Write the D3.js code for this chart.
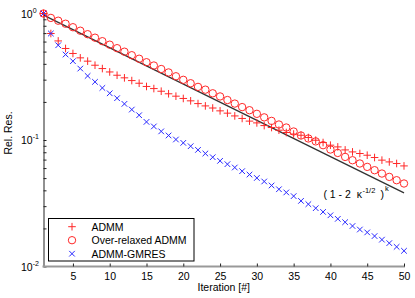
<!DOCTYPE html>
<html>
<head>
<meta charset="utf-8">
<script src="https://cdn.jsdelivr.net/npm/d3@7"></script>
<style>
  body { margin: 0; background: #fff; }
  svg { font-family: "Liberation Sans", Arial, sans-serif; }
  text { white-space: pre; }
</style>
</head>
<body>
<svg width="415" height="298"></svg>
<script>
// data
const iterations = d3.range(1, 51);

const admm = [1.0, 0.695, 0.607, 0.529, 0.483, 0.446, 0.420, 0.390, 0.367, 0.345,
  0.325, 0.310, 0.295, 0.281, 0.265, 0.255, 0.243, 0.232, 0.222, 0.213,
  0.204, 0.194, 0.186, 0.179, 0.170, 0.163, 0.155, 0.148, 0.141, 0.1365,
  0.130, 0.1255, 0.1195, 0.1146, 0.1115, 0.109, 0.1046, 0.0996, 0.0955, 0.091,
  0.0882, 0.0835, 0.0805, 0.0782, 0.0758, 0.0727, 0.0693, 0.0671, 0.0652, 0.0624];

const overRelaxed = [1.0, 0.923, 0.877, 0.830, 0.779, 0.731, 0.686, 0.644, 0.604, 0.567,
  0.532, 0.499, 0.468, 0.439, 0.412, 0.388, 0.364, 0.342, 0.319, 0.299,
  0.281, 0.263, 0.250, 0.234, 0.221, 0.207, 0.194, 0.182, 0.172, 0.161,
  0.151, 0.1416, 0.1326, 0.1255, 0.1167, 0.1085, 0.1028, 0.0975, 0.091, 0.0841,
  0.079, 0.0735, 0.0692, 0.0652, 0.0613, 0.0577, 0.0543, 0.0511, 0.0481, 0.0453];

const gmres = [1.0, 0.695, 0.561, 0.474, 0.420, 0.367, 0.321, 0.288, 0.258, 0.234,
  0.214, 0.193, 0.174, 0.157, 0.139, 0.128, 0.117, 0.1086, 0.1009, 0.0949,
  0.0893, 0.0835, 0.0782, 0.0731, 0.0684, 0.0644, 0.0606, 0.0567, 0.0533, 0.0501,
  0.0470, 0.0437, 0.0408, 0.0385, 0.0360, 0.0330, 0.0311, 0.0289, 0.0270, 0.0254,
  0.0238, 0.0224, 0.0209, 0.0196, 0.0186, 0.0174, 0.0163, 0.0153, 0.0143, 0.0133];

// reference rate (1 - 2 kappa^-1/2)^k, straight line in log scale
const boundIter = [1, 50];
const boundVal = [0.97, 0.0382];

const xTicks = [5, 10, 15, 20, 25, 30, 35, 40, 45, 50];
const yDecades = [1, 0.1, 0.01];
const yExps = ["0", "-1", "-2"];
const legendLabels = ["ADMM", "Over-relaxed ADMM", "ADMM-GMRES"];

const svg = d3.select("svg");
const mLeft = 43.5, mRight = 404, mTop = 13.5, mBottom = 266.5;

const x = d3.scaleLinear().domain([1, 50]).range([mLeft, mRight]);
const y = d3.scaleLog().domain([0.01, 1]).range([mBottom, mTop]);

// minor ticks for log axis
const yMinor = [];
[0.01, 0.1].forEach(d => { for (let m = 1; m < 10; m++) yMinor.push(d * m); });
yMinor.push(1);

// y axis
const yAxis = svg.append("g")
  .attr("transform", `translate(${mLeft},0)`)
  .call(d3.axisLeft(y).tickValues(yMinor).tickSizeInner(-3).tickSizeOuter(0).tickFormat(""));
yAxis.select(".domain").attr("stroke", "#222").attr("stroke-width", 1);
yAxis.selectAll(".tick line").attr("stroke", "#222");

// y labels 10^k
yDecades.forEach((d, i) => {
  const t = svg.append("text")
    .attr("x", 21)
    .attr("y", y(d) + 4)
    .attr("font-size", 10.5)
    .attr("fill", "#000")
    .text("10");
  t.append("tspan").attr("dy", -5).attr("font-size", 7).text(yExps[i]);
});

// x axis
const xAxis = svg.append("g")
  .attr("transform", `translate(0,${mBottom})`)
  .call(d3.axisBottom(x).tickValues(xTicks).tickSizeInner(-3).tickSizeOuter(0).tickPadding(6));
xAxis.select(".domain").attr("stroke", "#999").attr("stroke-width", 2)
  .attr("d", `M${mLeft - 1},0H${mRight + 1}`);
xAxis.selectAll(".tick line").attr("stroke", "#222");
xAxis.selectAll(".tick text").attr("font-size", 10.5).attr("fill", "#000")
  .attr("font-family", "Liberation Sans, Arial, sans-serif");

// axis titles
svg.append("text")
  .attr("x", (mLeft + mRight) / 2).attr("y", 291)
  .attr("text-anchor", "middle").attr("font-size", 10.5)
  .text("Iteration [#]");

svg.append("text")
  .attr("transform", `translate(12,133) rotate(-90)`)
  .attr("text-anchor", "middle").attr("font-size", 10.5)
  .text("Rel. Res.");

// bound line
svg.append("path")
  .datum(boundIter.map((k, i) => [k, boundVal[i]]))
  .attr("fill", "none")
  .attr("stroke", "#333")
  .attr("stroke-width", 1.3)
  .attr("d", d3.line().x(d => x(d[0])).y(d => y(d[1])));

// annotation
const ann = svg.append("text")
  .attr("x", x(39.05)).attr("y", y(0.0345))
  .attr("font-size", 10.5).attr("fill", "#000")
  .text("( 1 - 2  \u03ba");
ann.append("tspan").attr("dy", -5).attr("dx", 0.5).attr("font-size", 7.5).text("-1/2");
ann.append("tspan").attr("dy", 5).attr("dx", 5).text(")");
ann.append("tspan").attr("dy", -7).attr("dx", 1).attr("font-size", 7.5).text("k");

// markers
const red = "#ff2828", blue = "#2828ff";

function plus(g, s) {
  g.append("path").attr("d", `M${-s},0H${s}M0,${-s}V${s}`);
}
function cross(g, s) {
  g.append("path").attr("d", `M${-s},${-s}L${s},${s}M${-s},${s}L${s},${-s}`);
}

const plotG = svg.append("g");

const admmG = plotG.append("g").attr("stroke", red).attr("stroke-width", 1).attr("fill", "none")
  .selectAll("g").data(admm).join("g")
  .attr("transform", (d, i) => `translate(${x(iterations[i])},${y(d)})`);
admmG.each(function() { plus(d3.select(this), 3.8); });

plotG.append("g").attr("stroke", red).attr("stroke-width", 1).attr("fill", "none")
  .selectAll("circle").data(overRelaxed).join("circle")
  .attr("cx", (d, i) => x(iterations[i]))
  .attr("cy", d => y(d))
  .attr("r", 3.7);

const gmG = plotG.append("g").attr("stroke", blue).attr("stroke-width", 1).attr("fill", "none")
  .selectAll("g").data(gmres).join("g")
  .attr("transform", (d, i) => `translate(${x(iterations[i])},${y(d)})`);
gmG.each(function() { cross(d3.select(this), 2.8); });

// legend
const lg = svg.append("g");
lg.append("rect")
  .attr("x", 48.5).attr("y", 218.5).attr("width", 145.5).attr("height", 42.5)
  .attr("fill", "#fff").attr("stroke", "#000").attr("stroke-width", 1);

legendLabels.forEach((lab, i) => {
  const cy = 226.7 + i * 13.5;
  const m = lg.append("g").attr("transform", `translate(72,${cy})`).attr("fill", "none")
    .attr("stroke", i === 2 ? blue : red).attr("stroke-width", 1);
  if (i === 0) plus(m, 3.8);
  else if (i === 1) m.append("circle").attr("r", 3.7);
  else cross(m, 2.8);
  lg.append("text").attr("x", 91.5).attr("y", cy + 3.8)
    .attr("font-size", 10.5).attr("fill", "#000").text(lab);
});
</script>
</body>
</html>
